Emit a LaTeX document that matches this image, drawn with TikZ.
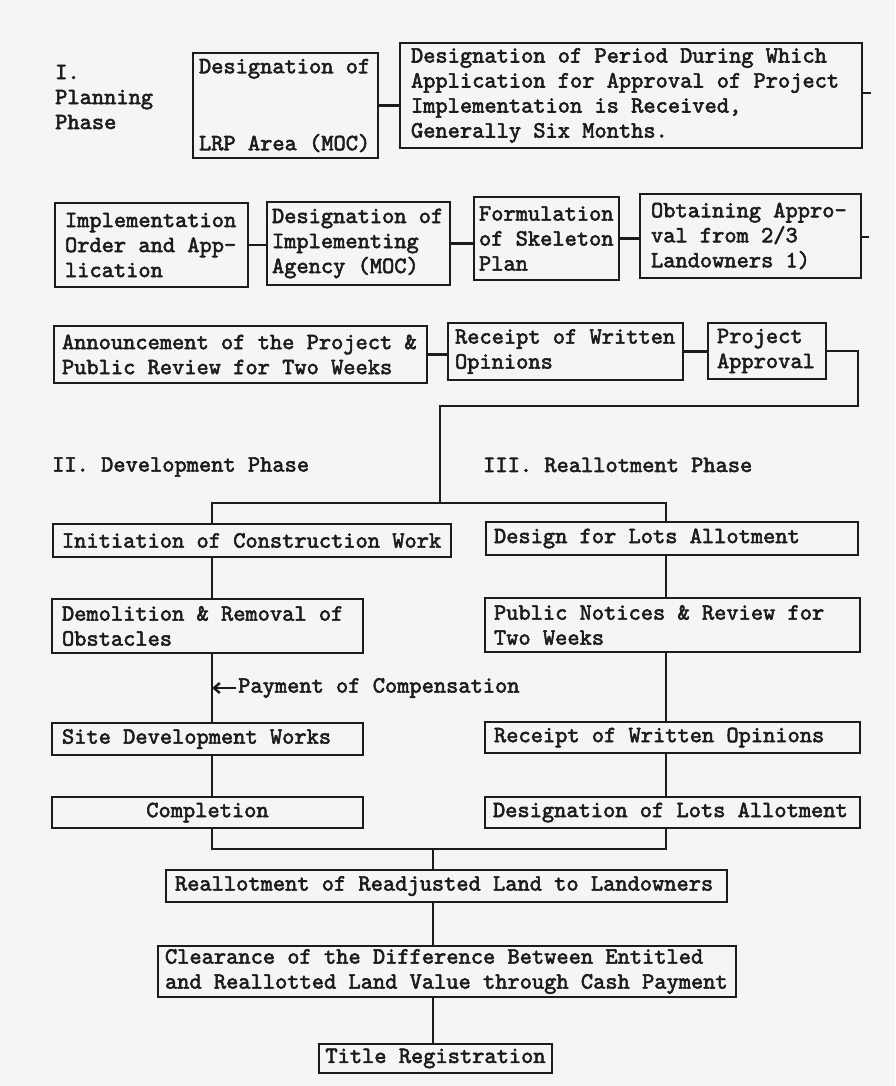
\documentclass[tikz,border=0pt]{standalone}
\usepackage{fontspec}
\usetikzlibrary{arrows.meta}
\newfontfamily\twfont{lmmono10-regular.otf}[FakeBold=2.4]
\definecolor{ink}{HTML}{1C1C1C}
\definecolor{paper}{HTML}{F5F5F5}
\newcommand{\diagfont}{\twfont\fontsize{23.3}{25}\selectfont}
\newcommand{\fixsp}{\spaceskip=\fontdimen2\font\relax\xspaceskip=\fontdimen2\font\relax}
\tikzset{
  fc/.style={draw=ink, line width=2.6pt, text=ink, font=\diagfont,
    align=left, inner ysep=0pt, anchor=center, execute at begin node=\fixsp},
  lbl/.style={text=ink, font=\diagfont, align=left, inner sep=0pt, anchor=west},
  conn/.style={draw=ink, line width=2.4pt},
}
\begin{document}
\begin{tikzpicture}[x=1pt,y=-1pt]
\fill[paper] (0,0) rectangle (895,1086);
\useasboundingbox (0,0) rectangle (895,1086);

% ---------- I. Planning phase ----------
\node[lbl] (plan) at (55,97) {I.\\Planning\\Phase};
\node[fc, minimum width=185pt, minimum height=105pt, inner xsep=6pt, text width=173pt] (P1) at (285.5,105.5)
  {Designation of\\[52pt]LRP Area (MOC)};
\node[fc, minimum width=462pt, minimum height=105pt, inner xsep=11pt, text width=440pt] (P2) at (631,95.5)
  {Designation of Period During Which\\Application for Approval of Project\\Implementation is Received,\\Generally Six Months.};
\coordinate (s1) at (871,93);

\node[fc, minimum width=193pt, minimum height=84pt, inner xsep=10pt, text width=173pt] (A) at (151.5,245)
  {Implementation\\Order and App-\\lication};
\node[fc, minimum width=183pt, minimum height=83pt, inner xsep=5pt, text width=173pt] (B) at (358.5,243.5)
  {Designation of\\Implementing\\Agency (MOC)};
\node[fc, minimum width=145pt, minimum height=83pt, inner xsep=5pt, text width=135pt] (C) at (546.5,238.5)
  {Formulation\\of Skeleton\\Plan};
\node[fc, minimum width=221pt, minimum height=84pt, inner xsep=11pt, text width=199pt] (D) at (750.5,236)
  {Obtaining Appro-\\val from 2/3\\Landowners 1)};
\coordinate (s2) at (869,237);

\node[fc, minimum width=373pt, minimum height=57pt, inner xsep=8pt, text width=357pt] (E) at (240.5,354.5)
  {Announcement of the Project \&\\Public Review for Two Weeks};
\node[fc, minimum width=235pt, minimum height=57pt, inner xsep=7pt, text width=221pt] (F) at (565.5,351.5)
  {Receipt of Written\\Opinions};
\node[fc, minimum width=118pt, minimum height=56pt, inner xsep=9pt, text width=100pt] (G) at (767,351)
  {Project\\Approval};
\coordinate (g1) at (858,406);
\coordinate (split) at (440,503);

% ---------- phase labels ----------
\node[lbl] (dev) at (52,467) {II. Development Phase};
\node[lbl] (real) at (483,465) {III. Reallotment Phase};

% ---------- II. Development column ----------
\node[fc, minimum width=398pt, minimum height=33pt, inner xsep=9pt, text width=380pt] (H) at (252,540.5)
  {Initiation of Construction Work};
\node[fc, minimum width=311pt, minimum height=54pt, inner xsep=10pt, text width=291pt] (I) at (207.5,626)
  {Demolition \& Removal of\\Obstacles};
\node[fc, minimum width=311pt, minimum height=32pt, inner xsep=10pt, text width=291pt] (J) at (207.5,739)
  {Site Development Works};
\node[fc, minimum width=311pt, minimum height=31pt, inner xsep=10pt, text width=291pt, align=center] (K) at (207.5,812.5)
  {Completion};
\node[lbl, inner xsep=2pt] (pay) at (236,688) {Payment of Compensation};

% ---------- III. Reallotment column ----------
\node[fc, minimum width=372pt, minimum height=33pt, inner xsep=8pt, text width=356pt] (L) at (672,538.5)
  {Design for Lots Allotment};
\node[fc, minimum width=375pt, minimum height=54pt, inner xsep=9pt, text width=357pt] (M) at (672.5,625)
  {Public Notices \& Review for\\Two Weeks};
\node[fc, minimum width=375pt, minimum height=31pt, inner xsep=9pt, text width=357pt] (N) at (672.5,737.5)
  {Receipt of Written Opinions};
\node[fc, minimum width=375pt, minimum height=31pt, inner xsep=8pt, text width=359pt] (O) at (672.5,812.5)
  {Designation of Lots Allotment};

% ---------- final steps ----------
\node[fc, minimum width=561pt, minimum height=32pt, inner xsep=9pt, text width=543pt] (Pr) at (446.5,886)
  {Reallotment of Readjusted Land to Landowners};
\node[fc, minimum width=578pt, minimum height=51pt, inner xsep=7pt, text width=564pt] (Q) at (447,971.5)
  {Clearance of the Difference Between Entitled\\and Reallotted Land Value through Cash Payment};
\node[fc, minimum width=233pt, minimum height=29pt, inner xsep=6pt, text width=221pt, align=center] (R) at (435.5,1058.5)
  {Title Registration};

\coordinate (lx) at (212,0);
\coordinate (rx) at (666,0);
\coordinate (mx) at (433,0);
\coordinate (merge) at (433,849);

% ---------- connectors ----------
\draw[conn] (P1.east) -- (P1.east -| P2.west);
\draw[conn] (s1 -| P2.east) -- (s1);
\draw[conn] (A.east) -- (A.east -| B.west);
\draw[conn] (B.east) -- (B.east -| C.west);
\draw[conn] (C.east) -- (C.east -| D.west);
\draw[conn] (s2 -| D.east) -- (s2);
\draw[conn] (E.east) -- (E.east -| F.west);
\draw[conn] (F.east) -- (F.east -| G.west);
\draw[conn] (G.east) -| (g1) -| (split);
\draw[conn] (lx |- H.north) -- (lx |- split) -- (rx |- split) -- (rx |- L.north);

\draw[conn] (lx |- H.south) -- (lx |- I.north);
\draw[conn] (lx |- I.south) -- (lx |- J.north);
\draw[conn] (lx |- J.south) -- (lx |- K.north);
\draw[conn, -{Straight Barb[length=6pt,width=10pt]}] (pay.west) -- (pay.west -| lx);

\draw[conn] (rx |- L.south) -- (rx |- M.north);
\draw[conn] (rx |- M.south) -- (rx |- N.north);
\draw[conn] (rx |- N.south) -- (rx |- O.north);

\draw[conn] (lx |- K.south) -- (lx |- merge) -- (rx |- merge) -- (rx |- O.south);
\draw[conn] (merge) -- (mx |- Pr.north);
\draw[conn] (mx |- Pr.south) -- (mx |- Q.north);
\draw[conn] (mx |- Q.south) -- (mx |- R.north);
\end{tikzpicture}
\end{document}
